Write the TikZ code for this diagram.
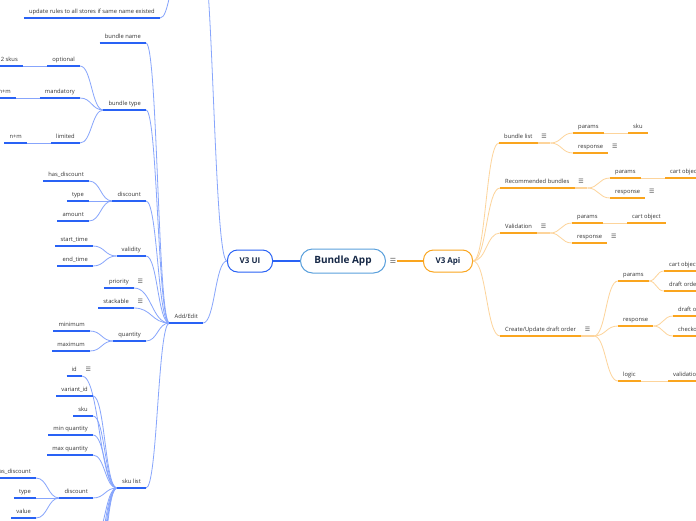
\documentclass[tikz,border=0pt]{standalone}
\usepackage{fontspec}
\setmainfont{Open Sans}
\newfontfamily\iconfont{DejaVu Sans}
\usetikzlibrary{calc}
\definecolor{uiblue}{RGB}{41,98,245}
\definecolor{uilight}{RGB}{135,165,252}
\definecolor{apiorange}{RGB}{250,165,30}
\definecolor{apilight}{RGB}{253,212,155}
\definecolor{appblue}{RGB}{90,160,220}
\definecolor{titlenavy}{RGB}{22,40,70}
\definecolor{textgray}{RGB}{51,51,51}

\begin{document}
\begin{tikzpicture}[
    x=1pt, y=-1pt,
    every node/.style={font=\fontsize{5.8}{7}\selectfont, text=textgray},
    topic/.style={inner xsep=5pt, inner ysep=2.5pt, text height=4.4pt, text depth=1.4pt},
    ltopic/.style={topic, anchor=south east},
    rtopic/.style={topic, anchor=south west},
    menuicon/.style={topic, inner xsep=3.5pt, anchor=south west, text=textgray!85,
                     font=\iconfont\fontsize{6}{7}\selectfont},
    central/.style={draw, rounded corners=10pt, fill=white, line width=1pt, text=titlenavy,
                    font=\bfseries\fontsize{8}{9}\selectfont, minimum height=22pt},
    uiline/.style={draw=uiblue, line width=1.6pt},
    uiline light/.style={draw=uilight, line width=1.6pt},
    apiline/.style={draw=apiorange, line width=1.6pt},
    apiline light/.style={draw=apilight, line width=1.6pt},
    mmlink/.style={to path={let \p1=(\tikztostart), \p2=(\tikztotarget) in
        .. controls ({(\x1+\x2)/2},\y1) and ({(\x1+\x2)/2},\y2) .. (\tikztotarget)}},
    uilink/.style={mmlink, draw=uilight, line width=0.8pt},
    apilink/.style={mmlink, draw=apilight, line width=0.8pt}
]
\useasboundingbox (0,0) rectangle (696,520);
\fill[white] (0,0) rectangle (696,520);
\clip (0,0) rectangle (696,520);

% centre
\node[central, draw=appblue, minimum width=85pt, minimum height=24pt, rounded corners=12pt,
      font=\bfseries\fontsize{10}{12}\selectfont] (app) at (343,261) {Bundle App};
\node[font=\iconfont\fontsize{7}{8}\selectfont, text=textgray!80, inner sep=1pt] (appi) at (393,261) {☰};
\node[central, draw=uiblue, minimum width=45pt] (ui) at (250,261) {V3 UI};
\node[central, draw=apiorange, minimum width=49pt] (api) at (448,261) {V3 Api};

% V3 UI side
\coordinate (uiup) at (200,-60);
\coordinate (updup) at (178,-20);
\node[ltopic] (upd) at (160,18) {update rules to all stores if same name existed};
\node[ltopic] (addedit) at (203,323) {Add/Edit};
\node[ltopic] (bname) at (146,43) {bundle name};
\node[ltopic] (btype) at (146,110) {bundle type};
\node[ltopic] (optional) at (80,66) {optional};
\node[ltopic] (skus) at (23,66) {2 skus};
\node[ltopic] (mandatory) at (80,98) {mandatory};
\node[ltopic] (nmone) at (16,98) {n+m};
\node[ltopic] (limited) at (80,143) {limited};
\node[ltopic] (nmtwo) at (27,143) {n+m};
\node[ltopic] (discount) at (146,201) {discount};
\node[ltopic] (hasdisc) at (89,181) {has\_discount};
\node[ltopic] (disctype) at (89,201) {type};
\node[ltopic] (amount) at (89,221) {amount};
\node[ltopic] (validity) at (146,256) {validity};
\node[ltopic] (starttime) at (93,246) {start\_time};
\node[ltopic] (endtime) at (93,266) {end\_time};
\node[ltopic] (priority) at (134,288) {priority};
\node[menuicon] (priorityi) at (priority.south east) {☰};
\node[ltopic] (stackable) at (134,308) {stackable};
\node[menuicon] (stackablei) at (stackable.south east) {☰};
\node[ltopic] (quantity) at (146,341) {quantity};
\node[ltopic] (minimum) at (90,331) {minimum};
\node[ltopic] (maximum) at (90,351) {maximum};
\node[ltopic] (skulist) at (146,488) {sku list};
\node[ltopic] (skuid) at (82,376) {id};
\node[menuicon] (skuidi) at (skuid.south east) {☰};
\node[ltopic] (variantid) at (93,396) {variant\_id};
\node[ltopic] (sku) at (93,416) {sku};
\node[ltopic] (minqty) at (93,435) {min quantity};
\node[ltopic] (maxqty) at (93,455) {max quantity};
\node[ltopic] (skudisc) at (93,498) {discount};
\node[ltopic] (skuhasdisc) at (36,478) {has\_discount};
\node[ltopic] (skutype) at (36,498) {type};
\node[ltopic] (skuvalue) at (36,518) {value};
\foreach \k in {1,...,5}
  \coordinate (skumore\k) at (93,{522+18*\k});

% V3 Api side
\node[rtopic] (blist) at (499,143) {bundle list};
\node[menuicon] (blisti) at (blist.south east) {☰};
\node[rtopic] (blparams) at (573,133) {params};
\node[rtopic] (blsku) at (628,133) {sku};
\node[rtopic] (blresp) at (573,153) {response};
\node[menuicon] (blrespi) at (blresp.south east) {☰};
\node[rtopic] (recb) at (500,188) {Recommended bundles};
\node[menuicon] (recbi) at (recb.south east) {☰};
\node[rtopic] (rbparams) at (610,178) {params};
\node[rtopic] (rbcart) at (665,178) {cart object};
\node[rtopic] (rbresp) at (610,198) {response};
\node[menuicon] (rbrespi) at (rbresp.south east) {☰};
\node[rtopic] (valid) at (500,233) {Validation};
\node[menuicon] (validi) at (valid.south east) {☰};
\node[rtopic] (vaparams) at (572,223) {params};
\node[rtopic] (vacart) at (627,223) {cart object};
\node[rtopic] (varesp) at (572,243) {response};
\node[menuicon] (varespi) at (varesp.south east) {☰};
\node[rtopic] (draft) at (500,336) {Create/Update draft order};
\node[menuicon] (drafti) at (draft.south east) {☰};
\node[rtopic] (drparams) at (618,281) {params};
\node[rtopic] (drcart) at (664,271) {cart object};
\node[rtopic] (drorder) at (664,291) {draft order};
\node[rtopic] (drresp) at (618,326) {response};
\node[rtopic] (drrdraft) at (673,316) {draft order};
\node[rtopic] (drrcheck) at (673,336) {checkout url};
\node[rtopic] (drlogic) at (618,381) {logic};
\node[rtopic] (drvalid) at (668,381) {validation};

% connectors
\draw[uiblue, line width=1.2pt] (app) -- (ui);
\draw[apiorange, line width=1.2pt] (appi) -- (api);
\draw[uilink] (ui.west) to (uiup);
\draw[uilink] (ui.west) to (addedit.south east);
\draw[uilink] (upd.south east) to (updup);
\foreach \c in {bname,btype,discount,validity,priority,stackable,quantity,skulist}
  \draw[uilink] (addedit.south west) to (\c.south east);
\foreach \c in {optional,mandatory,limited}
  \draw[uilink] (btype.south west) to (\c.south east);
\draw[uilink] (optional.south west) to (skus.south east);
\draw[uilink] (mandatory.south west) to (nmone.south east);
\draw[uilink] (limited.south west) to (nmtwo.south east);
\foreach \c in {hasdisc,disctype,amount}
  \draw[uilink] (discount.south west) to (\c.south east);
\foreach \c in {starttime,endtime}
  \draw[uilink] (validity.south west) to (\c.south east);
\foreach \c in {minimum,maximum}
  \draw[uilink] (quantity.south west) to (\c.south east);
\foreach \c in {skuid,variantid,sku,minqty,maxqty,skudisc}
  \draw[uilink] (skulist.south west) to (\c.south east);
\foreach \k in {1,...,5}
  \draw[uilink] (skulist.south west) to (skumore\k);
\foreach \c in {skuhasdisc,skutype,skuvalue}
  \draw[uilink] (skudisc.south west) to (\c.south east);

\foreach \c in {blist,recb,valid,draft}
  \draw[apilink] (api.east) to (\c.south west);
\foreach \c in {blparams,blresp}
  \draw[apilink] (blisti.south east) to (\c.south west);
\draw[apilink] (blparams.south east) to (blsku.south west);
\foreach \c in {rbparams,rbresp}
  \draw[apilink] (recbi.south east) to (\c.south west);
\draw[apilink] (rbparams.south east) to (rbcart.south west);
\foreach \c in {vaparams,varesp}
  \draw[apilink] (validi.south east) to (\c.south west);
\draw[apilink] (vaparams.south east) to (vacart.south west);
\foreach \c in {drparams,drresp,drlogic}
  \draw[apilink] (drafti.south east) to (\c.south west);
\foreach \c in {drcart,drorder}
  \draw[apilink] (drparams.south east) to (\c.south west);
\foreach \c in {drrdraft,drrcheck}
  \draw[apilink] (drresp.south east) to (\c.south west);
\draw[apilink] (drlogic.south east) to (drvalid.south west);

% underlines
\foreach \n in {upd,addedit,bname,btype,optional,skus,mandatory,nmone,limited,nmtwo,
                discount,hasdisc,disctype,amount,validity,starttime,endtime,priority,
                stackable,quantity,minimum,maximum,skulist,skuid,variantid,sku,minqty,
                maxqty,skudisc,skuhasdisc,skutype,skuvalue}
  \draw[uiline] (\n.south west) -- (\n.south east);
\foreach \n in {blist,blparams,blsku,blresp,recb,rbparams,rbcart,rbresp,valid,vaparams,
                vacart,varesp,draft,drparams,drcart,drorder,drresp,drrdraft,drrcheck,
                drlogic,drvalid}
  \draw[apiline] (\n.south west) -- (\n.south east);
\foreach \n in {blisti,recbi,validi,drafti}
  \draw[apiline light] (\n.south west) -- (\n.south east);

\end{tikzpicture}
\end{document}
